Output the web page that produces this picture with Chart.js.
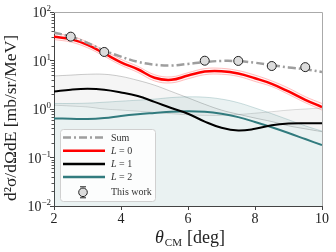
<!DOCTYPE html>
<html>
<head>
<meta charset="utf-8">
<script src="https://cdn.jsdelivr.net/npm/chart.js@4.4.0/dist/chart.umd.min.js"></script>
<style>
  html, body { margin:0; padding:0; background:#fff; }
  #wrap { width:336px; height:252px; }
</style>
</head>
<body>
<div id="wrap"><canvas id="c"></canvas></div>
<script>
// angle grid (deg, CM)
const theta   = [2, 2.5, 3, 3.5, 4, 4.5, 5, 5.5, 6, 6.5, 7, 7.5, 8, 8.5, 9, 9.5, 10];
const sumXs   = [38, 31, 23, 16, 12, 9.4, 8.2, 7.9, 8.5, 9.3, 9.8, 9.7, 9.0, 8.0, 7.2, 6.6, 5.8];
const l0      = [31, 27.6, 21, 14, 9.2, 6.6, 4.4, 4.0, 4.9, 5.9, 6.0, 5.4, 4.3, 3.3, 2.3, 1.55, 1.1];
const l0Hi    = [36, 32, 24, 16.2, 10.6, 7.6, 5.1, 4.6, 5.6, 6.8, 6.9, 6.2, 5.0, 3.8, 2.7, 1.8, 1.3];
const l0Lo    = [27, 24, 18.3, 12.2, 8.0, 5.7, 3.8, 3.45, 4.2, 5.1, 5.2, 4.7, 3.7, 2.9, 2.0, 1.35, 0.95];
const l1      = [2.3, 2.5, 2.6, 2.5, 2.2, 1.85, 1.4, 1.05, 0.8, 0.55, 0.41, 0.36, 0.39, 0.46, 0.5, 0.51, 0.51];
const l2      = [0.64, 0.63, 0.62, 0.65, 0.72, 0.78, 0.83, 0.88, 0.9, 0.88, 0.8, 0.68, 0.54, 0.42, 0.32, 0.24, 0.18];
const l2Hi    = [1.3, 1.3, 1.32, 1.38, 1.45, 1.52, 1.6, 1.72, 1.78, 1.75, 1.6, 1.35, 1.05, 0.8, 0.6, 0.45, 0.35];
const greyHi  = [4.8, 5.0, 5.2, 5.2, 4.7, 3.9, 3.1, 2.3, 1.7, 1.25, 0.95, 0.78, 0.65, 0.55, 0.45, 0.39, 0.34];
const greyLo  = [1.2, 1.15, 1.1, 1.0, 0.95, 0.9, 0.85, 0.8, 0.76, 0.74, 0.74, 0.77, 0.82, 0.88, 0.95, 1.0, 1.05];
// measured points
const expTheta = [2.5, 3.5, 6.5, 7.5, 8.5, 9.5];
const expXs    = [31, 15, 9.9, 9.8, 7.7, 7.3];
const yTicks   = [0.01, 0.1, 1, 10, 100];
const yExps    = ['\u22122', '\u22121', '0', '1', '2'];
const xTicks   = [2, 4, 6, 8, 10];

const SERIF = '"Liberation Serif", "DejaVu Serif", serif';
const TEAL = '#317b7e';
const pts = ys => theta.map((t, i) => ({ x: t, y: ys[i] }));

const curve = (data, color, width, order, extra) => Object.assign({
  data: pts(data), borderColor: color, borderWidth: width, pointRadius: 0,
  tension: 0.4, fill: false, order
}, extra || {});

const datasets = [
  { data: expTheta.map((t, i) => ({ x: t, y: expXs[i] })), showLine: false,
    pointRadius: 4.5, pointBackgroundColor: '#dcdcdc', pointBorderColor: '#222',
    pointBorderWidth: 1, order: 0 },
  curve(sumXs, '#9e9e9e', 2.5, 1, { borderDash: [8, 3, 2, 3] }),
  curve(l0, '#ff0000', 2.5, 2),
  curve(l1, '#000000', 2, 3),
  curve(l2, TEAL, 2, 4),
  curve(l0Hi, 'rgba(255,110,110,0.55)', 0.8, 5, { fill: '+1', backgroundColor: 'rgba(255,0,0,0.04)' }),
  curve(l0Lo, 'rgba(255,110,110,0.55)', 0.8, 6),
  curve(l2Hi, 'rgba(49,123,126,0.3)', 0.8, 7, { fill: 'start', backgroundColor: 'rgba(49,123,126,0.1)' }),
  curve(greyHi, 'rgba(0,0,0,0.25)', 0.8, 8, { fill: '+1', backgroundColor: 'rgba(0,0,0,0.04)' }),
  curve(greyLo, 'rgba(0,0,0,0.18)', 0.8, 9)
];

const decor = {
  id: 'decor',
  afterDraw(chart) {
    const ctx = chart.ctx, a = chart.chartArea;
    const ys = chart.scales.y;
    ctx.save();
    // frame: light top/right
    ctx.strokeStyle = '#aaa'; ctx.lineWidth = 1;
    ctx.beginPath();
    ctx.moveTo(a.left, a.top + 0.5); ctx.lineTo(a.right + 0.5, a.top + 0.5); ctx.lineTo(a.right + 0.5, a.bottom);
    ctx.stroke();
    // minor ticks on log axis
    ctx.strokeStyle = '#555';
    ctx.beginPath();
    for (let d = -2; d < 2; d++) {
      for (let k = 2; k <= 9; k++) {
        const y = Math.round(ys.getPixelForValue(k * Math.pow(10, d))) + 0.5;
        ctx.moveTo(a.left - 2.5, y); ctx.lineTo(a.left, y);
      }
    }
    ctx.stroke();
    // y tick labels 10^n
    ctx.fillStyle = '#222'; ctx.textBaseline = 'middle';
    yTicks.forEach((v, i) => {
      const y = ys.getPixelForValue(v);
      ctx.font = '9px ' + SERIF;
      const we = ctx.measureText(yExps[i]).width;
      ctx.textAlign = 'right';
      ctx.fillText(yExps[i], 51, y - 3);
      ctx.font = '14px ' + SERIF;
      ctx.fillText('10', 51 - we, y + 1.5);
    });
    // y title
    ctx.save();
    ctx.translate(11, 118);
    ctx.rotate(-Math.PI / 2);
    ctx.font = '17.5px ' + SERIF; ctx.textAlign = 'center'; ctx.textBaseline = 'middle';
    ctx.fillText('d\u00b2\u03c3/d\u03a9dE [mb/sr/MeV]', 0, 0);
    ctx.restore();
    // x title
    ctx.textBaseline = 'alphabetic'; ctx.textAlign = 'left';
    let x = 155;
    ctx.font = 'italic 18px ' + SERIF; ctx.fillText('\u03b8', x, 243); x += ctx.measureText('\u03b8').width + 1;
    ctx.font = '11px ' + SERIF; ctx.fillText('CM', x, 246); x += ctx.measureText('CM').width + 5;
    ctx.font = '18px ' + SERIF; ctx.fillText('[deg]', x, 243);
    // legend
    const lx = 60, ly = 129, lw = 95, lh = 72;
    ctx.fillStyle = 'rgba(255,255,255,0.85)'; ctx.strokeStyle = '#d0d0d0'; ctx.lineWidth = 1;
    ctx.beginPath(); ctx.roundRect(lx + 0.5, ly + 0.5, lw, lh, 3); ctx.fill(); ctx.stroke();
    const rows = [
      { t: 'Sum', c: '#9e9e9e', w: 2.5, dash: [8, 3, 2, 3] },
      { t: 'L', s: ' = 0', c: '#ff0000', w: 2.5 },
      { t: 'L', s: ' = 1', c: '#000', w: 2.5 },
      { t: 'L', s: ' = 2', c: TEAL, w: 2.5 },
      { t: 'This work', marker: true }
    ];
    rows.forEach((r, i) => {
      const y = ly + 8.5 + i * 13.2 + (r.marker ? 2 : 0);
      if (r.marker) {
        ctx.strokeStyle = '#222'; ctx.lineWidth = 1;
        ctx.beginPath(); ctx.moveTo(80, y - 5.5); ctx.lineTo(86, y - 5.5); ctx.moveTo(80, y + 5.5); ctx.lineTo(86, y + 5.5); ctx.stroke();
        ctx.fillStyle = '#dcdcdc';
        ctx.beginPath(); ctx.arc(83, y, 4.3, 0, Math.PI * 2); ctx.fill(); ctx.stroke();
      } else {
        ctx.strokeStyle = r.c; ctx.lineWidth = r.w; ctx.setLineDash(r.dash || []);
        ctx.beginPath(); ctx.moveTo(63, y); ctx.lineTo(105, y); ctx.stroke();
        ctx.setLineDash([]);
      }
      ctx.fillStyle = '#333'; ctx.textBaseline = 'middle'; ctx.textAlign = 'left';
      if (r.s) {
        ctx.font = 'italic 10px ' + SERIF; ctx.fillText(r.t, 111, y + 0.5);
        const w = ctx.measureText(r.t).width;
        ctx.font = '10px ' + SERIF; ctx.fillText(r.s, 111 + w, y + 0.5);
      } else {
        ctx.font = '10px ' + SERIF; ctx.fillText(r.t, 111, y + 0.5);
      }
    });
    ctx.restore();
  }
};

new Chart(document.getElementById('c').getContext('2d'), {
  type: 'line',
  data: { datasets },
  options: {
    responsive: true, maintainAspectRatio: false, animation: false,
    layout: { padding: { top: 12, right: 14, left: 0, bottom: 0 } },
    plugins: { legend: { display: false }, tooltip: { enabled: false } },
    scales: {
      x: {
        type: 'linear', min: 2, max: 10,
        afterBuildTicks: s => { s.ticks = xTicks.map(v => ({ value: v })); },
        afterFit: s => { s.height = 46; },
        grid: { drawOnChartArea: false, tickLength: 4, tickColor: '#444' },
        border: { color: '#444', width: 1 },
        ticks: { color: '#222', padding: 1, font: { family: SERIF, size: 14 } }
      },
      y: {
        type: 'logarithmic', min: 0.01, max: 100,
        afterBuildTicks: s => { s.ticks = yTicks.map(v => ({ value: v })); },
        afterFit: s => { s.width = 54; },
        grid: { drawOnChartArea: false, tickLength: 4, tickColor: '#444' },
        border: { color: '#444', width: 1 },
        ticks: { display: false }
      }
    }
  },
  plugins: [decor]
});
</script>
</body>
</html>
